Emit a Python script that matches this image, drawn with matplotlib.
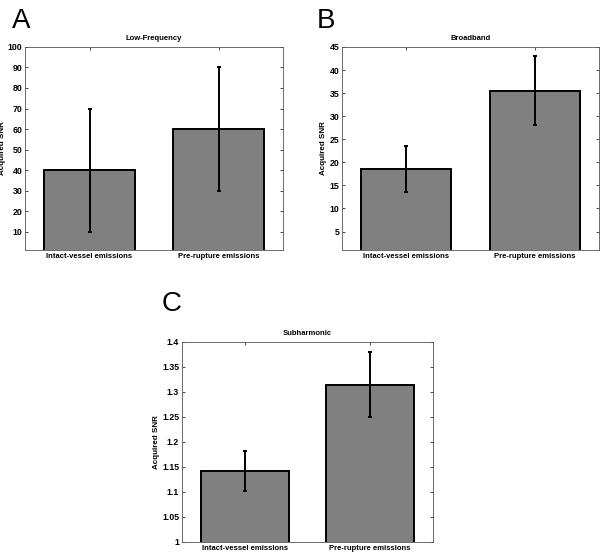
import numpy as np
import matplotlib
matplotlib.use("Agg")
import matplotlib.pyplot as plt

categories = ["Intact-vessel emissions", "Pre-rupture emissions"]

low_freq = [40.0, 60.0]
low_freq_err = [30.0, 30.2]

broadband = [18.5, 35.5]
broadband_err = [5.0, 7.5]

subharmonic = [1.142, 1.314]
subharmonic_err = [0.040, 0.065]

plt.rcParams['font.family'] = ['Liberation Sans', 'DejaVu Sans']

fig = plt.figure(figsize=(6.0, 5.54), dpi=100, facecolor='white')


def panel(rect, vals, errs, title, ylim, yticks, yticklabels, letter, letter_xy):
    ax = fig.add_axes(rect)
    x = np.arange(1, len(vals) + 1)
    ax.bar(x, vals, width=0.7, color='#808080', edgecolor='black',
           linewidth=1.4, bottom=0, zorder=2)
    ax.errorbar(x, vals, yerr=errs, fmt='none', ecolor='black',
                elinewidth=1.4, capsize=1.5, capthick=1.4, zorder=3)
    ax.set_xlim(0.5, 2.5)
    ax.set_ylim(*ylim)
    ax.set_xticks(x)
    ax.set_xticklabels(categories, fontsize=5.5, fontweight='bold')
    ax.set_yticks(yticks)
    ax.set_yticklabels(yticklabels, fontsize=6.3, fontweight='bold')
    ax.tick_params(direction='in', length=2.5, width=0.5, top=True, right=True, pad=2)
    for sp in ax.spines.values():
        sp.set_linewidth(0.6)
        sp.set_color('#555555')
    ax.set_title(title, fontsize=5.5, fontweight='bold', pad=5)
    ax.set_ylabel('Acquired SNR', fontsize=5.8, fontweight='bold', labelpad=1.5)
    fig.text(letter_xy[0], letter_xy[1], letter, fontsize=20, ha='left', va='top')
    return ax


panel([0.0417, 0.5487, 0.43, 0.3665], low_freq, low_freq_err, 'Low-Frequency',
      (1, 100), np.arange(10, 101, 10), [str(v) for v in range(10, 101, 10)],
      'A', (0.02, 0.985))

panel([0.57, 0.5487, 0.4283, 0.3665], broadband, broadband_err, 'Broadband',
      (1, 45), np.arange(5, 46, 5), [str(v) for v in range(5, 46, 5)],
      'B', (0.528, 0.985))

yt = np.round(np.arange(1.0, 1.401, 0.05), 2)
panel([0.3033, 0.0217, 0.418, 0.361], subharmonic, subharmonic_err, 'Subharmonic',
      (1, 1.4), yt, ['1', '1.05', '1.1', '1.15', '1.2', '1.25', '1.3', '1.35', '1.4'],
      'C', (0.27, 0.475))

fig.savefig('out.png', dpi=100, facecolor='white')
